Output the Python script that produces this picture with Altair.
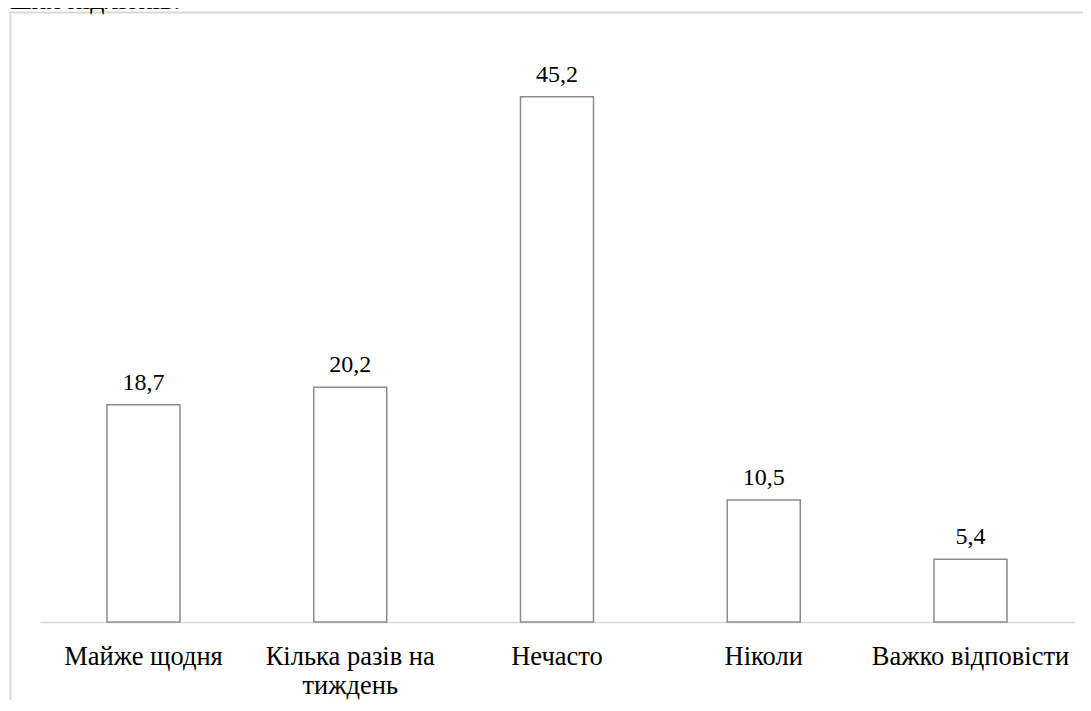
import altair as alt
import pandas as pd

categories = ["Майже щодня", "Кілька разів на тиждень", "Нечасто", "Ніколи", "Важко відповісти"]
values = [18.7, 20.2, 45.2, 10.5, 5.4]
fragment = ["ших підлітків."]

df = pd.DataFrame({"cat": categories, "val": values})
df["label"] = [f"{v:.1f}".replace(".", ",") for v in values]

FONT = "Liberation Serif"

x_enc = alt.X(
    "cat:N",
    sort=categories,
    scale=alt.Scale(paddingInner=0.647, paddingOuter=0.324),
    axis=alt.Axis(
        title=None,
        labelAngle=0,
        ticks=False,
        tickSize=0,
        domainColor="#d9d9d9",
        domainWidth=1.5,
        labelFont=FONT,
        labelFontSize=26.5,
        labelColor="#000000",
        labelBaseline="alphabetic",
        labelPadding=42.5,
        labelLineHeight=29,
        labelLimit=0,
        labelOverlap=False,
        labelExpr="datum.label == 'Кілька разів на тиждень' ? ['Кілька разів на', 'тиждень'] : datum.label",
    ),
)
y_enc = alt.Y("val:Q", scale=alt.Scale(domain=[0, 50]), axis=None)

bars = alt.Chart(df).mark_bar(fill="#ffffff", stroke="#8c8c8c", strokeWidth=1.5).encode(x=x_enc, y=y_enc)

texts = alt.Chart(df).mark_text(
    font=FONT, fontSize=24, color="#000000", baseline="alphabetic", dy=-15
).encode(x=alt.X("cat:N", sort=categories), y="val:Q", text="label:N")

frame = alt.Chart(pd.DataFrame({"k": [0]})).mark_rect(
    fill="transparent", stroke="#d9d9d9", strokeWidth=2
).encode(
    x=alt.value(-29.5), x2=alt.value(1200), y=alt.value(-28.5), y2=alt.value(800)
)

frag = alt.Chart(pd.DataFrame({"t": fragment})).mark_text(
    font=FONT, fontSize=28, color="#000000", align="left", baseline="alphabetic"
).encode(x=alt.value(-30), y=alt.value(-32), text="t:N")

chart = (
    alt.layer(frame, bars, texts, frag)
    .properties(
        width=1034,
        height=581,
        padding={"left": 32, "top": 33, "right": 9, "bottom": 78},
        autosize=alt.AutoSizeParams(type="none"),
    )
    .configure(font=FONT)
    .configure_view(stroke=None)
)

chart.save("out.html", embed_options={"renderer": "svg", "actions": False})
